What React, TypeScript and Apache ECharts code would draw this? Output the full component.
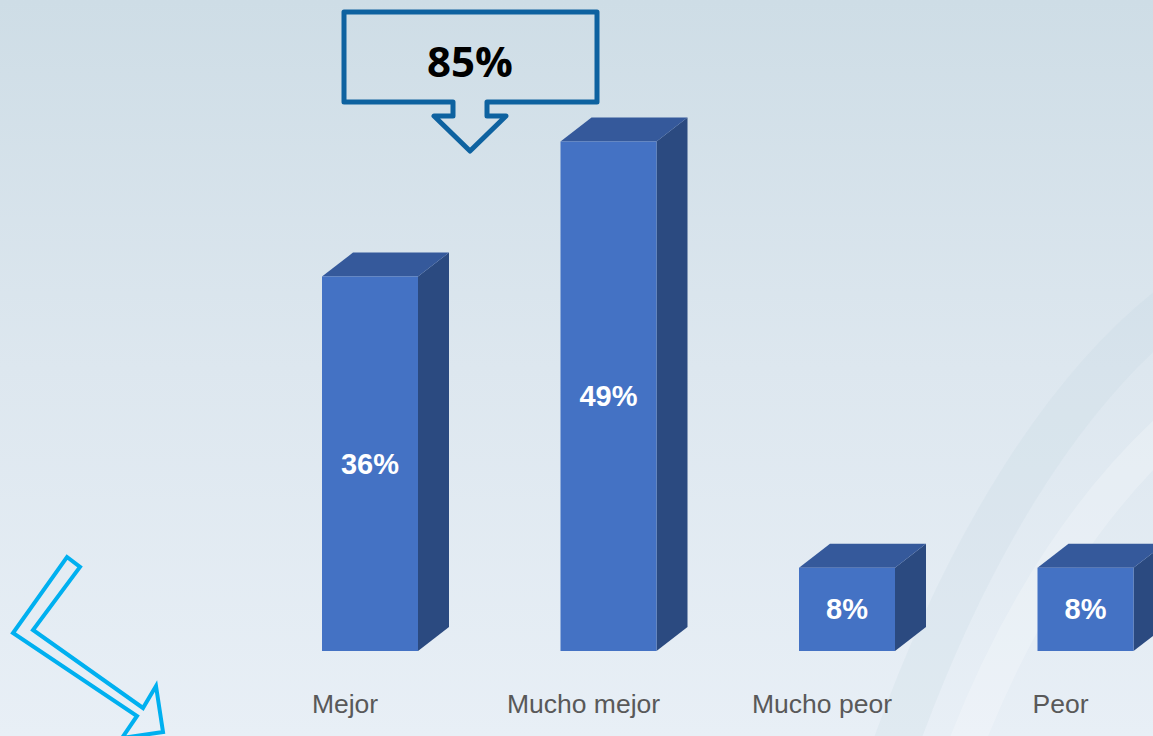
import React, { useEffect, useRef } from "react";
import * as echarts from "echarts";

const categories = ["Mejor", "Mucho mejor", "Mucho peor", "Peor"];
const values = [36, 49, 8, 8];
const highlightIdx = [0, 1];

const FRONT = "#4472C4";
const SIDE = "#2B4A80";
const TOP = "#35599B";

export default function App() {
  const ref = useRef<HTMLDivElement>(null);
  useEffect(() => {
    document.body.style.margin = "0";
    const chart = echarts.init(ref.current!, null, { renderer: "svg" });
    const total = highlightIdx.reduce((s, i) => s + values[i], 0);
    const W = 96;
    const DX = 31;
    const DY = 24;
    const OFF = 25;
    const option: any = {
      animation: false,
      backgroundColor: {
        type: "linear",
        x: 0,
        y: 0,
        x2: 0,
        y2: 1,
        colorStops: [
          { offset: 0, color: "#CEDDE6" },
          { offset: 0.5, color: "#DDE7EF" },
          { offset: 1, color: "#E8EFF6" },
        ],
      },
      grid: { left: 345, width: 715.5, top: 27, height: 624 },
      xAxis: {
        type: "category",
        data: categories,
        boundaryGap: false,
        axisLine: { show: false },
        axisTick: { show: false },
        splitLine: { show: false },
        axisLabel: {
          color: "#595959",
          fontSize: 26.5,
          fontFamily: "Liberation Sans, Arial, sans-serif",
          margin: 39,
        },
      },
      yAxis: { type: "value", min: 0, max: 60, show: false, splitLine: { show: false } },
      graphic: [
        {
          type: "bezierCurve",
          silent: true,
          z: -10,
          shape: { x1: 890, y1: 760, cpx1: 960, cpy1: 560, x2: 1180, y2: 300, cpx2: 1060, cpy2: 390 },
          style: { stroke: "rgba(190,208,222,0.18)", lineWidth: 45, fill: null },
        },
        {
          type: "bezierCurve",
          silent: true,
          z: -10,
          shape: { x1: 960, y1: 760, cpx1: 1020, cpy1: 600, x2: 1180, y2: 420, cpx2: 1100, cpy2: 490 },
          style: { stroke: "rgba(255,255,255,0.22)", lineWidth: 35, fill: null },
        },
        {
          type: "polygon",
          shape: {
            points: [
              [344, 12], [597, 12], [597, 102], [487, 102], [487, 116], [506, 116],
              [470, 151], [434, 116], [453, 116], [453, 102], [344, 102],
            ],
          },
          style: { fill: "rgba(0,0,0,0)", stroke: "#0E62A0", lineWidth: 5, lineJoin: "round" },
        },
        {
          type: "text",
          x: 470,
          y: 60,
          style: {
            text: total + "%",
            fill: "#000",
            font: 'bold 42px "Open Sans", sans-serif',
            align: "center",
            verticalAlign: "middle",
          },
        },
        {
          type: "polygon",
          shape: {
            points: [
              [67, 557], [80, 567], [33, 630], [143, 708], [156, 686], [163, 732],
              [122, 738], [137, 716], [13, 633],
            ],
          },
          style: { fill: "rgba(0,0,0,0)", stroke: "#00B0F0", lineWidth: 4, lineJoin: "miter" },
        },
      ],
      series: [
        {
          type: "custom",
          data: values.map((v, i) => [i, v]),
          renderItem: (params: any, api: any) => {
            const p = api.coord([api.value(0), api.value(1)]);
            const b = api.coord([api.value(0), 0]);
            const cx = p[0] + OFF;
            const l = cx - W / 2;
            const r = cx + W / 2;
            const t = p[1];
            const bt = b[1];
            return {
              type: "group",
              children: [
                {
                  type: "polygon",
                  shape: { points: [[r, t], [r + DX, t - DY], [r + DX, bt - DY], [r, bt]] },
                  style: { fill: SIDE },
                },
                {
                  type: "polygon",
                  shape: { points: [[l, t], [l + DX, t - DY], [r + DX, t - DY], [r, t]] },
                  style: { fill: TOP },
                },
                {
                  type: "rect",
                  shape: { x: l, y: t, width: W, height: bt - t },
                  style: { fill: FRONT },
                },
                {
                  type: "text",
                  x: cx,
                  y: (t + bt) / 2,
                  style: {
                    text: api.value(1) + "%",
                    fill: "#FFFFFF",
                    font: 'bold 29px "Liberation Sans", Arial, sans-serif',
                    align: "center",
                    verticalAlign: "middle",
                  },
                },
              ],
            };
          },
        },
      ],
    };
    chart.setOption(option);
    return () => chart.dispose();
  }, []);
  return (
    <div
      ref={ref}
      style={{ position: "fixed", left: 0, top: 0, width: 1153, height: 736 }}
    />
  );
}
